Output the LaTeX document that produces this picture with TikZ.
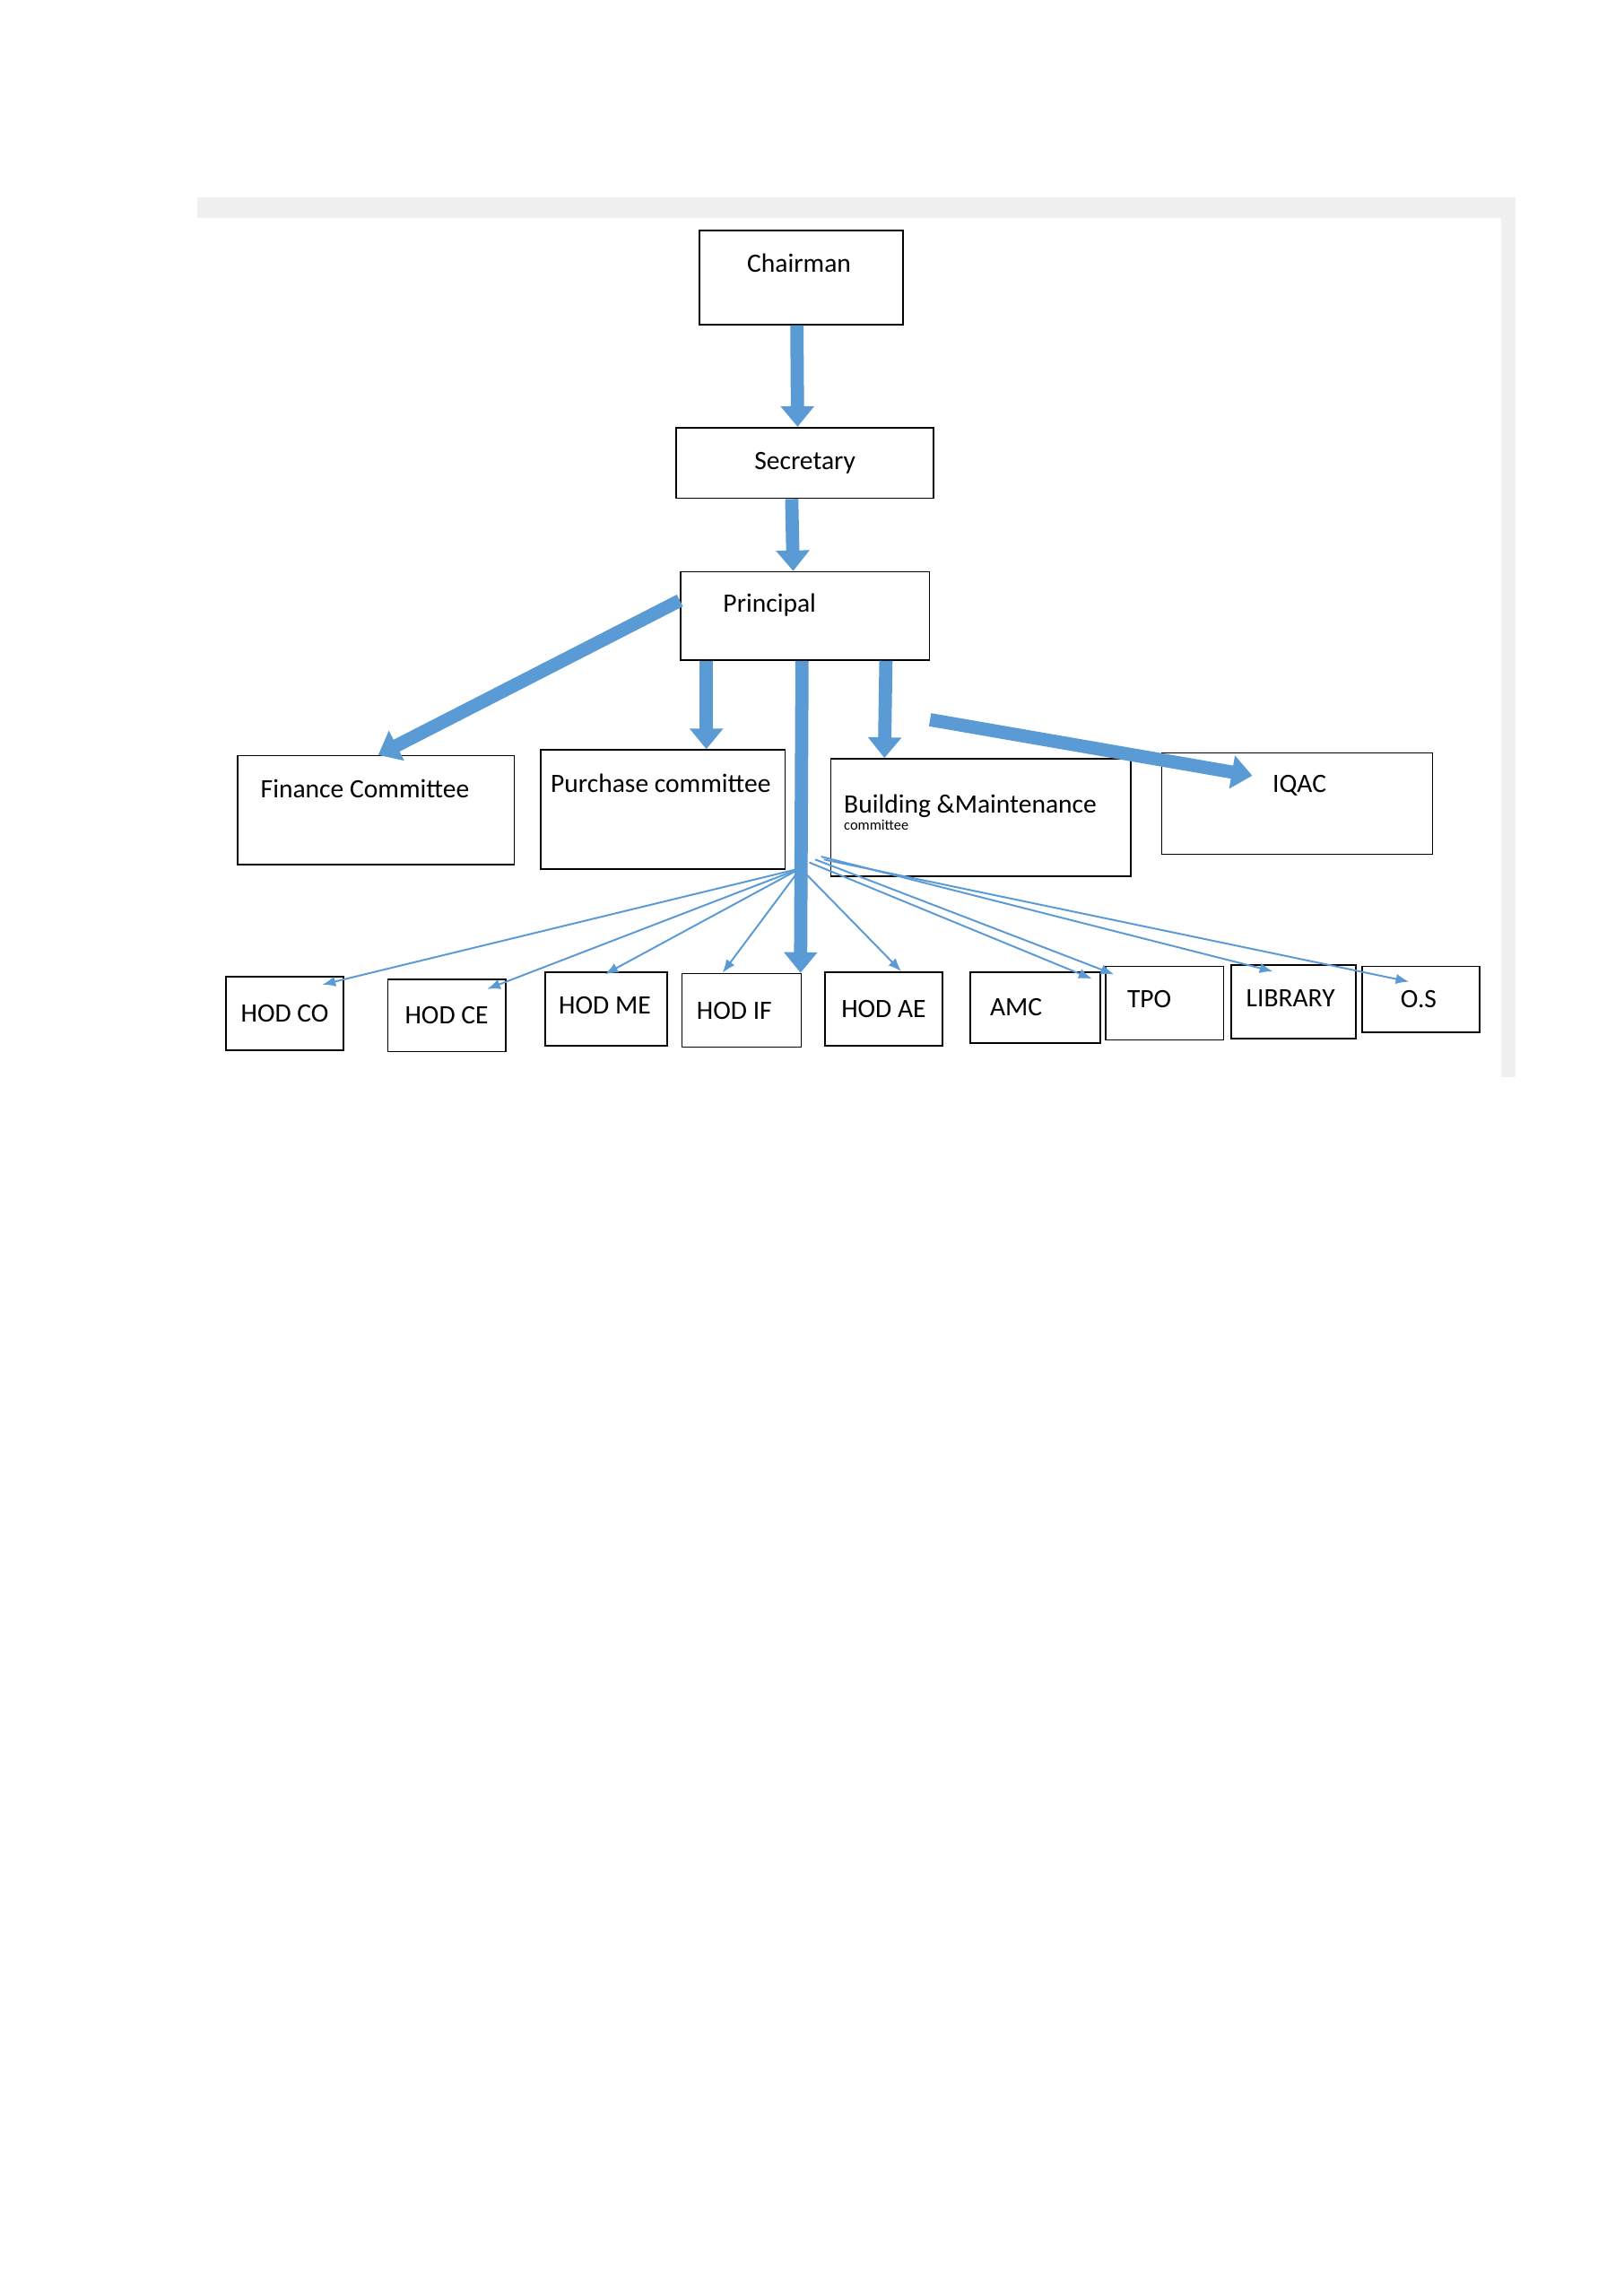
\documentclass[tikz,border=0pt]{standalone}
\usepackage{fontspec}
\setmainfont{Carlito}
\usetikzlibrary{arrows.meta}
\definecolor{arrowblue}{RGB}{91,155,213}
\begin{document}
\begin{tikzpicture}[
    x=1pt, y=-1pt,
    box/.style={
        draw,
        line width=1pt,
        anchor=north west,
        inner sep=0pt,
        font=\fontsize{18}{24}\selectfont
    },
    fat/.style={
        draw=arrowblue,
        line width=9pt,
        -{Triangle[length=14pt,width=22pt]}
    },
    thin/.style={
        draw=arrowblue,
        line width=1.2pt,
        -{Latex[length=9pt,width=7pt]}
    }
]
    % page and frame
    \useasboundingbox (0,0) rectangle (1103,1560);
    \fill[white] (0,0) rectangle (1103,1560);
    \fill[black!6] (134,134) rectangle (1030,732);
    \fill[white] (134,148) rectangle (1020,732);

    % Top of the chart
    \node[box, minimum width=138pt, minimum height=64pt] (chair) at (475,156) {};
    \node at (543,179) {\fontsize{18}{24}\selectfont Chairman};
    \node[box, minimum width=175pt, minimum height=48pt] (secr) at (459,290) {Secretary};
    \node[box, minimum width=169pt, minimum height=60pt] (princ) at (462,388) {};
    \node at (523,411) {\fontsize{18}{24}\selectfont Principal};

    % Committees
    \node[box, minimum width=188pt, minimum height=74pt] (fin) at (161,513) {};
    \node at (248,536) {\fontsize{18}{24}\selectfont Finance Committee};
    \node[box, minimum width=166pt, minimum height=81pt] (purch) at (367,509) {};
    \node at (449,532) {\fontsize{18}{24}\selectfont Purchase committee};
    \node[box, minimum width=204pt, minimum height=80pt] (build) at (564,515) {};
    \node[anchor=west, align=left] at (570,552) {\fontsize{18}{31}\selectfont Building \&Maintenance\\committee};
    \node[box, minimum width=184pt, minimum height=69pt] (iqac) at (789,511) {};
    \node at (883,534) {\fontsize{18}{24}\selectfont IQAC};

    % Departments
    \node[box, minimum width=80pt, minimum height=50pt] (hodco) at (153,663) {HOD CO};
    \node[box, minimum width=80pt, minimum height=49pt] (hodce) at (263,665) {HOD CE};
    \node[box, minimum width=83pt, minimum height=50pt] (hodme) at (370,660) {};
    \node at (411,683) {\fontsize{18}{24}\selectfont HOD ME};
    \node[box, minimum width=81pt, minimum height=50pt] (hodif) at (463,661) {\hspace*{-10pt}HOD IF};
    \node[box, minimum width=80pt, minimum height=50pt] (hodae) at (560,660) {HOD AE};
    \node[box, minimum width=88pt, minimum height=48pt] (amc) at (659,660) {\hspace*{-26pt}AMC};
    \node[box, minimum width=80pt, minimum height=50pt] (tpo) at (751,656) {};
    \node at (781,679) {\fontsize{18}{24}\selectfont TPO};
    \node[box, minimum width=85pt, minimum height=50pt] (lib) at (836,655) {};
    \node at (877,678) {\fontsize{18}{24}\selectfont LIBRARY};
    \node[box, minimum width=80pt, minimum height=45pt] (os) at (925,656) {};
    \node at (964,679) {\fontsize{18}{24}\selectfont O.S};

    % Thick arrows
    \draw[fat] ([xshift=-3pt]chair.south) -- ([xshift=-5pt]secr.north);
    \draw[fat] ([xshift=-9pt]secr.south) -- ([xshift=-8pt]princ.north);
    \draw[fat] ([yshift=-20pt]princ.north west) -- ([xshift=96pt]fin.north west);
    \draw[fat] ([xshift=18pt]princ.south west) -- ([xshift=113pt]purch.north west);
    \draw[fat] ([xshift=-2pt]princ.south) -- ([xshift=81pt]hodif.north west);
    \draw[fat] ([xshift=55pt]princ.south) -- ([xshift=37pt]build.north west);
    \draw[fat] ([yshift=-40pt]princ.south east) -- ([xshift=62pt,yshift=-16pt]iqac.north west);

    % Thin arrows to the departments
    \coordinate (hub) at (544,590);
    \draw[thin] (hub) -- ([xshift=-15pt,yshift=-6pt]hodco.north east);
    \draw[thin] (hub) -- ([xshift=-13pt,yshift=-7pt]hodce.north east);
    \draw[thin] (hub) -- ([xshift=-1pt,yshift=-2pt]hodme.north);
    \draw[thin] (hub) -- ([xshift=-13pt]hodif.north);
    \draw[thin] (hub) -- ([xshift=12pt]hodae.north);
    \draw[thin] ([xshift=6pt,yshift=4pt]hub) -- ([xshift=-6pt,yshift=-5pt]amc.north east);
    \draw[thin] ([xshift=10pt,yshift=6pt]hub) -- ([xshift=6pt,yshift=-6pt]tpo.north west);
    \draw[thin] ([xshift=14pt,yshift=8pt]hub) -- ([xshift=-14pt,yshift=-5pt]lib.north);
    \draw[thin] ([xshift=16pt,yshift=6pt]hub) -- ([xshift=-8pt,yshift=-11pt]os.north);
\end{tikzpicture}
\end{document}
